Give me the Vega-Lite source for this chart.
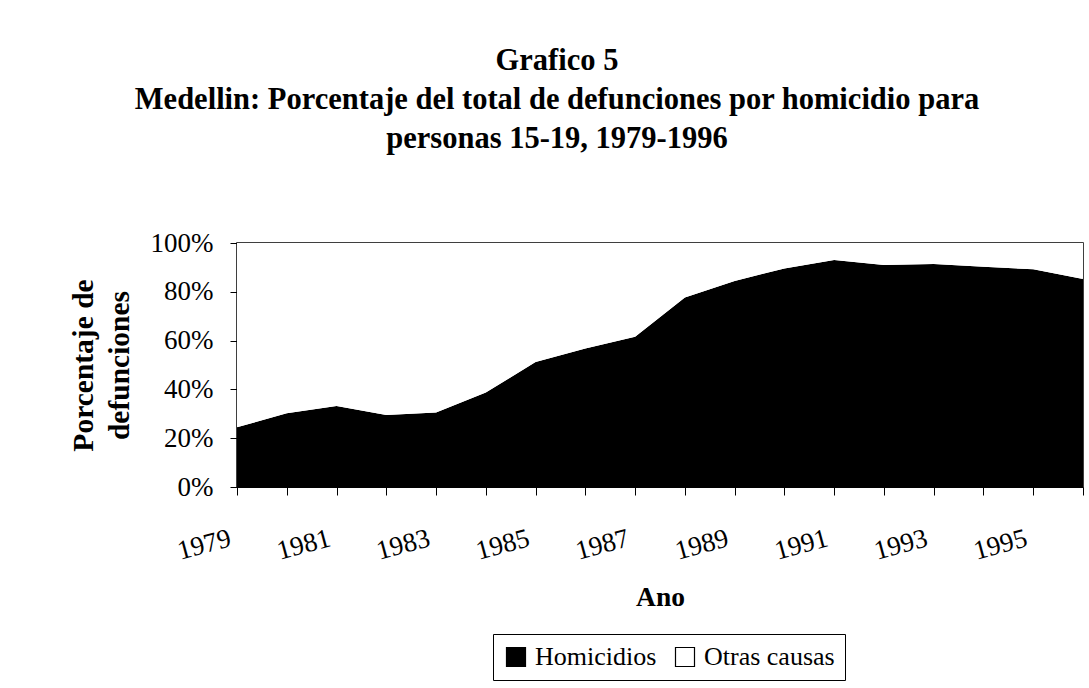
{
  "$schema": "https://vega.github.io/schema/vega-lite/v6.json",
  "width": 846,
  "height": 244,
  "autosize": {"type": "none"},
  "padding": {"left": 237, "top": 243, "right": 6, "bottom": 201},
  "background": "white",
  "title": {
    "text": ["Grafico 5", "Medellin: Porcentaje del total de defunciones por homicidio para", "personas 15-19, 1979-1996"],
    "font": "Liberation Serif",
    "fontSize": 30.5,
    "fontWeight": "bold",
    "color": "black",
    "lineHeight": 39,
    "anchor": "middle",
    "frame": "group",
    "dx": -103,
    "offset": 75
  },
  "data": {
    "values": [
      {"year": 1979, "causa": "Homicidios", "pct": 24.5}, {"year": 1979, "causa": "Otras causas", "pct": 75.5},
      {"year": 1980, "causa": "Homicidios", "pct": 30.2}, {"year": 1980, "causa": "Otras causas", "pct": 69.8},
      {"year": 1981, "causa": "Homicidios", "pct": 33.2}, {"year": 1981, "causa": "Otras causas", "pct": 66.8},
      {"year": 1982, "causa": "Homicidios", "pct": 29.5}, {"year": 1982, "causa": "Otras causas", "pct": 70.5},
      {"year": 1983, "causa": "Homicidios", "pct": 30.5}, {"year": 1983, "causa": "Otras causas", "pct": 69.5},
      {"year": 1984, "causa": "Homicidios", "pct": 38.7}, {"year": 1984, "causa": "Otras causas", "pct": 61.3},
      {"year": 1985, "causa": "Homicidios", "pct": 51.2}, {"year": 1985, "causa": "Otras causas", "pct": 48.8},
      {"year": 1986, "causa": "Homicidios", "pct": 56.8}, {"year": 1986, "causa": "Otras causas", "pct": 43.2},
      {"year": 1987, "causa": "Homicidios", "pct": 61.6}, {"year": 1987, "causa": "Otras causas", "pct": 38.4},
      {"year": 1988, "causa": "Homicidios", "pct": 77.7}, {"year": 1988, "causa": "Otras causas", "pct": 22.3},
      {"year": 1989, "causa": "Homicidios", "pct": 84.4}, {"year": 1989, "causa": "Otras causas", "pct": 15.6},
      {"year": 1990, "causa": "Homicidios", "pct": 89.6}, {"year": 1990, "causa": "Otras causas", "pct": 10.4},
      {"year": 1991, "causa": "Homicidios", "pct": 93.0}, {"year": 1991, "causa": "Otras causas", "pct": 7.0},
      {"year": 1992, "causa": "Homicidios", "pct": 91.0}, {"year": 1992, "causa": "Otras causas", "pct": 9.0},
      {"year": 1993, "causa": "Homicidios", "pct": 91.4}, {"year": 1993, "causa": "Otras causas", "pct": 8.6},
      {"year": 1994, "causa": "Homicidios", "pct": 90.3}, {"year": 1994, "causa": "Otras causas", "pct": 9.7},
      {"year": 1995, "causa": "Homicidios", "pct": 89.2}, {"year": 1995, "causa": "Otras causas", "pct": 10.8},
      {"year": 1996, "causa": "Homicidios", "pct": 85.2}, {"year": 1996, "causa": "Otras causas", "pct": 14.8}
    ]
  },
  "mark": {"type": "area", "interpolate": "linear"},
  "encoding": {
    "x": {
      "field": "year",
      "type": "quantitative",
      "scale": {"domain": [1979, 1996], "nice": false, "zero": false},
      "axis": {
        "title": "Ano",
        "values": [1979, 1980, 1981, 1982, 1983, 1984, 1985, 1986, 1987, 1988, 1989, 1990, 1991, 1992, 1993, 1994, 1995, 1996],
        "labelExpr": "datum.value % 2 == 1 ? datum.label : ''",
        "format": "d",
        "labelAngle": -15,
        "labelAlign": "right",
        "labelBaseline": "top",
        "labelOffset": -10.5,
        "labelPadding": 30,
        "labelFontSize": 27,
        "labelFlush": false,
        "labelOverlap": false,
        "tickSize": 8,
        "titleFontSize": 27.5,
        "titleFontWeight": "bold",
        "titleBaseline": "alphabetic",
        "titleY": 118,
        "titleX": 423,
        "titleAlign": "center"
      }
    },
    "y": {
      "field": "pct",
      "type": "quantitative",
      "stack": "zero",
      "scale": {"domain": [0, 100], "nice": false},
      "axis": {
        "title": ["Porcentaje de", "defunciones"],
        "values": [0, 20, 40, 60, 80, 100],
        "labelExpr": "datum.value + '%'",
        "labelFontSize": 27,
        "labelPadding": 17,
        "labelBaseline": "middle",
        "tickSize": 7,
        "titleFontSize": 29.5,
        "titleFontWeight": "bold",
        "titleLineHeight": 35.6,
        "titleAngle": -90,
        "titleBaseline": "alphabetic",
        "titleAlign": "center",
        "titleX": -144.3,
        "titleY": 122
      }
    },
    "order": {"field": "causa", "sort": "ascending"},
    "color": {
      "field": "causa",
      "type": "nominal",
      "scale": {"domain": ["Homicidios", "Otras causas"], "range": ["black", "white"]},
      "legend": {
        "title": null,
        "orient": "none",
        "legendX": 256,
        "legendY": 391,
        "direction": "horizontal",
        "strokeColor": "black",
        "padding": 10,
        "labelFontSize": 26,
        "labelOffset": 6,
        "columnPadding": 15,
        "symbolType": "square",
        "symbolSize": 361,
        "symbolStrokeColor": "black",
        "symbolStrokeWidth": 1.2,
        "symbolOpacity": 1,
        "encode": {
          "symbols": {"update": {"stroke": {"value": "black"}, "strokeWidth": {"value": 1.2}}}
        }
      }
    }
  },
  "config": {
    "font": "Liberation Serif",
    "view": {"stroke": "black", "strokeWidth": 1.5},
    "axis": {
      "grid": false,
      "domainColor": "black",
      "domainWidth": 1,
      "tickColor": "black",
      "tickWidth": 1,
      "labelColor": "black",
      "titleColor": "black",
      "labelFont": "Liberation Serif",
      "titleFont": "Liberation Serif",
      "zindex": 1
    },
    "legend": {
      "labelFont": "Liberation Serif",
      "labelColor": "black"
    }
  }
}
